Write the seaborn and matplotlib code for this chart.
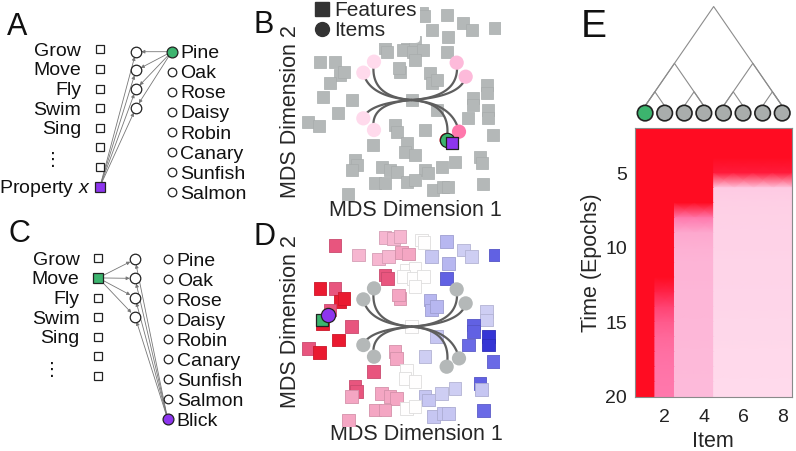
import numpy as np
import matplotlib
matplotlib.use("Agg")
import matplotlib.pyplot as plt
import seaborn as sns
from matplotlib.colors import LinearSegmentedColormap
from matplotlib.lines import Line2D

# ---------------- data ----------------
feature_names_A = ["Grow", "Move", "Fly", "Swim", "Sing", "", "", "Property $x$"]
feature_names_C = ["Grow", "Move", "Fly", "Swim", "Sing", "", ""]
item_names = ["Pine", "Oak", "Rose", "Daisy", "Robin", "Canary", "Sunfish", "Salmon"]
novel_item = "Blick"
n_hidden = 4

# MDS coordinates of the features (panels B and D) and their property value (colour in D)
feat_mds1 = [-2.30, -1.60, -1.00, -0.70, -0.80, -0.55, -0.35, -0.30, -0.10, 0.30,
             0.37, 1.05, 1.55, 1.80, 2.50, 0.60, 1.10, -0.80, -0.73, -0.15,
             0.10, -0.25, 0.05, 0.35, 0.10, 1.05, -2.75, -2.30, -2.15, -2.03,
             -2.45, -2.67, -1.80, -2.20, -3.10, -2.77, -0.35, -0.39, 0.55, 0.60,
             0.75, 2.25, 2.25, 1.85, 1.85, 1.70, 2.30, 2.30, 0.75, 0.00,
             -0.50, -0.45, 0.40, 2.45, -1.15, -0.15, -0.20, 0.10, 2.05, 2.10,
             -1.70, -1.65, -1.80, -0.90, -0.65, -0.45, 0.40, 0.50, 0.90, 1.30,
             -1.10, -0.80, -0.15, 0.10, 0.65, 0.95, 1.10, 2.15, -1.90]
feat_mds2 = [2.43, 2.15, 2.03, 2.10, 2.68, 2.65, 2.70, 2.22, 2.18, 2.60,
             2.52, 2.55, 2.30, 2.10, 2.15, 2.10, 1.90, 1.55, 1.45, 1.70,
             1.75, 1.50, 1.45, 1.50, 1.20, 1.45, 1.15, 1.15, 0.75, 0.85,
             0.50, 0.10, 0.00, -0.40, -0.65, -0.77, 0.85, 0.95, 0.80, 0.50,
             0.60, 0.45, 0.20, 0.05, -0.15, -0.55, -0.30, -0.55, -0.30, 0.00,
             -0.75, -0.95, -0.90, -1.05, -1.35, -1.30, -1.55, -1.65, -1.70, -1.88,
             -1.80, -1.95, -2.10, -2.00, -2.10, -2.15, -2.10, -2.20, -2.00, -1.85,
             -2.50, -2.50, -2.45, -2.40, -2.70, -2.60, -2.60, -2.52, -2.82]
feat_value = [0.7, 0.35, 0.35, 0.35, 0.35, 0.35, 0.35, 0.4, 0.4, 0.0,
              0.0, -0.4, -0.3, -0.3, -0.75, -0.35, -0.4, 0.7, 0.7, 0.0,
              0.0, 0.0, 0.0, 0.0, 0.0, -0.75, 1.0, 0.7, 1.0, 1.0,
              0.7, 1.0, 0.7, 1.0, 0.7, 1.0, 0.4, 0.4, -0.4, -0.4,
              -0.4, -0.3, -0.3, -0.75, -0.75, -0.7, -1.0, -1.0, -0.35, 0.0,
              0.4, 0.4, -0.3, -0.7, 0.7, 0.0, 0.0, 0.0, -0.75, -0.35,
              0.7, 0.7, 0.4, 0.4, 0.4, 0.4, -0.35, -0.35, -0.3, -0.3,
              0.4, 0.4, 0.0, 0.0, -0.35, -0.35, -0.35, -0.7, 0.4]

# MDS coordinates of the items (Pine ... Salmon)
item_mds1 = [1.05, 1.42, 1.62, 1.35, -1.13, -1.45, -1.45, -1.13]
item_mds2 = [-1.20, -0.95, 0.70, 1.12, 1.15, 0.82, -0.55, -0.90]
item_pairs = [(0, 1), (2, 3), (4, 5), (6, 7)]
property_x_mds = (1.20, -1.30)
move_mds = (-2.70, 0.20)
blick_mds = (-2.50, 0.35)

# Panel E: property activation per item over epochs (1 = red, 0 = pale pink)
epochs = list(range(2, 21))
act_item1 = [1.0] * 19
act_item2 = [1.0] * 11 + [0.85, 0.68, 0.58, 0.52, 0.49, 0.47, 0.46, 0.45]
act_item3 = [1.0] * 6 + [0.45, 0.33, 0.31, 0.30, 0.30, 0.29, 0.29, 0.28, 0.28, 0.27, 0.27, 0.26, 0.26]
act_item4 = list(act_item3)
act_item5 = [1.0, 1.0, 1.0, 0.9, 0.16, 0.13, 0.12, 0.11, 0.11, 0.10, 0.10, 0.09, 0.09,
             0.08, 0.08, 0.07, 0.07, 0.06, 0.06]
act_item6 = list(act_item5)
act_item7 = list(act_item5)
act_item8 = list(act_item5)
item_ticks = [2, 4, 6, 8]
epoch_ticks = [5, 10, 15, 20]
tree_clusters = [(1, 2), (3, 4), (5, 6), (7, 8), (1, 4), (5, 8), (1, 8)]

# ---------------- style ----------------
sns.set_theme(style="white")
plt.rcParams["font.family"] = ["Liberation Sans", "DejaVu Sans"]
plt.rcParams["mathtext.fontset"] = "custom"
plt.rcParams["mathtext.it"] = "Liberation Sans:italic"
plt.rcParams["mathtext.rm"] = "Liberation Sans"

GREEN = "#3cb46e"
PURPLE = "#8d35ee"
GRAY_SQ = "#b4b8b8"

cmap_e = LinearSegmentedColormap.from_list(
    "e", [(0, "#ffe3f1"), (0.3, "#fdb4d6"), (0.45, "#ff78ac"), (0.75, "#ff3362"), (1, "#ff0c22")])
cmap_d = LinearSegmentedColormap.from_list(
    "d", [(0, "#3535d5"), (0.15, "#6a6ae6"), (0.33, "#c8c8f2"), (0.5, "#ffffff"),
          (0.67, "#f6b8d2"), (0.85, "#e8557f"), (1.0, "#ea1a30")])

W, H = 796, 451
fig = plt.figure(figsize=(W / 100, H / 100), dpi=100)


def rect(x0, y0, x1, y1):
    return [x0 / W, 1 - y1 / H, (x1 - x0) / W, (y1 - y0) / H]


ov = fig.add_axes([0, 0, 1, 1])
ov.set_xlim(0, W)
ov.set_ylim(H, 0)
ov.axis("off")

FS = 14
SQ_S = 80      # feature square size (pt^2)
IT_S = 105     # item circle size (pt^2)


def network(ax, feats, fx, fy0, fdy, flabel_x, hx, hy0, hdy, ix, iy0, idy, items, ilabel_x,
            feat_fill, item_fill, src_feat, src_item, dots_xy):
    fys = [fy0 + i * fdy for i in range(len(feats))]
    hys = [hy0 + j * hdy for j in range(n_hidden)]
    iys = [iy0 + k * idy for k in range(len(items))]
    for hy in hys:
        for sx, sy in [(fx, fys[src_feat]), (ix, iys[src_item])]:
            ax.annotate("", xy=(hx, hy), xytext=(sx, sy),
                        arrowprops=dict(arrowstyle="-|>", color="#777777", lw=0.6,
                                        mutation_scale=5, shrinkA=3, shrinkB=3.8), zorder=2)
    for i, (name, fy) in enumerate(zip(feats, fys)):
        fc = feat_fill.get(i, "white")
        ax.plot([fx], [fy], marker="s", ms=5.4 if i not in feat_fill else 6.5, mfc=fc,
                mec="#222222", mew=0.9, ls="", zorder=4)
        if name:
            lx = flabel_x + (9 if "Property" in name else 0)
            ax.text(lx, fy + 6.5, name, ha="right", va="baseline", fontsize=FS, color="#111111")
    for hy in hys:
        ax.plot([hx], [hy], marker="o", ms=7.6, mfc="white", mec="#222222", mew=0.9,
                ls="", zorder=4)
    for k, (name, iy) in enumerate(zip(items, iys)):
        fc = item_fill.get(k, "white")
        ax.plot([ix], [iy], marker="o", ms=6.2 if k not in item_fill else 7.8, mfc=fc,
                mec="#222222", mew=0.9, ls="", zorder=4)
        ax.text(ilabel_x, iy + 6.5, name, ha="left", va="baseline", fontsize=FS, color="#111111")
    ax.text(dots_xy[0], dots_xy[1], "\u22EE", ha="center", va="center", fontsize=13,
            family=["DejaVu Sans"], color="#111111")


# Panel A
network(ov, feature_names_A, 100, 49.3, 19.6, 81, 136, 51.7, 18.7, 171.7, 51.7, 20.1,
        item_names, 180, {7: PURPLE}, {0: GREEN}, 7, 0, (53, 160))
# Panel C
network(ov, feature_names_C, 98.3, 258.3, 19.6, 79.5, 135, 259.3, 19.1, 167.7, 259.3, 20.0,
        item_names + [novel_item], 176.7, {1: GREEN}, {8: PURPLE}, 1, 8, (52, 370))

# panel letters
for letter, x, y, fs in [("A", 17, 35, 22), ("C", 19, 242, 22), ("B", 264, 33, 22),
                         ("D", 264, 245, 22), ("E", 594, 37, 28)]:
    ov.text(x, y, letter, ha="center", va="baseline", fontsize=fs, color="#111111")


def bezier(p0, p1, p2, n=40):
    t = np.linspace(0, 1, n)[:, None]
    return (1 - t) ** 2 * np.array(p0) + 2 * (1 - t) * t * np.array(p1) + t ** 2 * np.array(p2)


def mds_tree(ax):
    for a, b in item_pairs:
        mx = (item_mds1[a] + item_mds1[b]) / 2
        for i in (a, b):
            pts = bezier((0, 0), (mx, 0.1 * np.sign(item_mds2[i])), (item_mds1[i], item_mds2[i]))
            ax.plot(pts[:, 0], pts[:, 1], color="#5e5e5e", lw=1.6, zorder=3,
                    solid_capstyle="round")


def mds_axes(r, xlab_xy, ylab_xy):
    ax = fig.add_axes(r)
    ax.set_xlim(-3.35, 2.65)
    ax.set_ylim(-3.0, 3.0)
    ax.set_xticks([])
    ax.set_yticks([])
    ax.patch.set_alpha(0)
    for s in ax.spines.values():
        s.set_visible(False)
    ax.set_xlabel("MDS Dimension 1", fontsize=15.5, va="center")
    ax.xaxis.set_label_coords(*xlab_xy)
    ax.set_ylabel("MDS Dimension 2", fontsize=15.5, va="center")
    ax.yaxis.set_label_coords(*ylab_xy)
    return ax


final_act = [act_item1[-1], act_item2[-1], act_item3[-1], act_item4[-1],
             act_item5[-1], act_item6[-1], act_item7[-1], act_item8[-1]]

# Panel B
axB = mds_axes(rect(300, 0, 500, 200), (0.579, -0.05), (-0.05, 0.44))
sns.scatterplot(x=feat_mds1, y=feat_mds2, marker="s", s=SQ_S, color=GRAY_SQ,
                edgecolor="#a8acac", linewidth=0.5, ax=axB, legend=False, zorder=1)
mds_tree(axB)
sns.scatterplot(x=item_mds1, y=item_mds2, hue=final_act, palette=cmap_e, hue_norm=(0, 1),
                s=IT_S, edgecolor="none", ax=axB, legend=False, zorder=4)
axB.scatter([item_mds1[0]], [item_mds2[0]], s=IT_S, c=GREEN, edgecolors="#222222",
            linewidths=0.9, zorder=5)
axB.scatter([property_x_mds[0]], [property_x_mds[1]], marker="s", s=SQ_S, c=PURPLE,
            edgecolors="#222222", linewidths=0.9, zorder=6)
handles = [Line2D([], [], marker="s", ls="", color="#333333", ms=9.5),
           Line2D([], [], marker="o", ls="", color="#333333", ms=10)]
leg = axB.legend(handles, ["Features", "Items"], loc="upper left", bbox_to_anchor=(0.055, 1.01),
                 fontsize=15, frameon=True, facecolor="white", edgecolor="none", framealpha=1,
                 handletextpad=0.15, borderpad=0.15, labelspacing=0.05, handlelength=0.8,
                 borderaxespad=0)
leg.set_zorder(10)

# Panel D
axD = mds_axes(rect(300, 226.7, 500, 426.7), (0.5825, -0.04), (-0.05, 0.525))
sns.scatterplot(x=feat_mds1, y=feat_mds2, marker="s", s=SQ_S, hue=feat_value, palette=cmap_d,
                hue_norm=(-1, 1), linewidth=0.6, ax=axD, legend=False, zorder=1)
coll = axD.collections[-1]
fc = np.array(coll.get_facecolors())
ec = fc.copy()
ec[:, :3] = ec[:, :3] * 0.87
coll.set_edgecolor(ec)
mds_tree(axD)
sns.scatterplot(x=item_mds1, y=item_mds2, color="#b4b8b8", s=IT_S, edgecolor="none",
                ax=axD, legend=False, zorder=4)
axD.scatter([move_mds[0]], [move_mds[1]], marker="s", s=SQ_S, c=GREEN, edgecolors="#222222",
            linewidths=0.9, zorder=5)
axD.scatter([blick_mds[0]], [blick_mds[1]], s=IT_S, c=PURPLE, edgecolors="#222222",
            linewidths=0.9, zorder=6)

# Panel E heatmap
axE = fig.add_axes(rect(635.3, 128.3, 792, 396.7))
act = np.array([act_item1, act_item2, act_item3, act_item4,
                act_item5, act_item6, act_item7, act_item8]).T
n_items = act.shape[1]
Xv = np.repeat(np.arange(0.5, n_items + 1.5, 1.0), 2)[1:-1]
Cv = np.repeat(act, 2, axis=1)
axE.pcolormesh(Xv, np.array(epochs, float), Cv, shading="gouraud", cmap=cmap_e, vmin=0, vmax=1)
axE.set_xlim(0.5, n_items + 0.5)
axE.set_ylim(20, 2)
axE.set_xticks(item_ticks)
axE.set_yticks(epoch_ticks)
axE.tick_params(direction="in", length=4, width=0.6, color="#777777", labelsize=14,
                labelcolor="#222222", top=True, right=True, bottom=True, left=True)
axE.tick_params(axis="x", pad=9)
axE.tick_params(axis="y", pad=6)
for s in axE.spines.values():
    s.set_color("#8a8a8a")
    s.set_linewidth(0.8)
axE.set_ylabel("Time (Epochs)", fontsize=15.5, va="center")
axE.yaxis.set_label_coords(-0.278, 0.498)
axE.set_xlabel("Item", fontsize=15.5, va="center")
axE.xaxis.set_label_coords(0.494, -0.168)

# Dendrogram above heatmap
axT = fig.add_axes(rect(635.3, 0, 792, 125))
axT.set_xlim(0.5, n_items + 0.5)
axT.set_ylim(-0.67, 3.73)
axT.axis("off")
for a, b in tree_clusters:
    cx, h = (a + b) / 2, (b - a) / 2
    axT.plot([a, cx, b], [0, h, 0], color="#8c8c8c", lw=0.8, zorder=1)
leaf_colors = [GREEN] + ["#a9adac"] * (n_items - 1)
axT.scatter(np.arange(1, n_items + 1), [-0.25] * n_items, s=125, c=leaf_colors,
            edgecolors="#222222", linewidths=1.2, zorder=3, clip_on=False)

fig.savefig("out.png", dpi=100)
